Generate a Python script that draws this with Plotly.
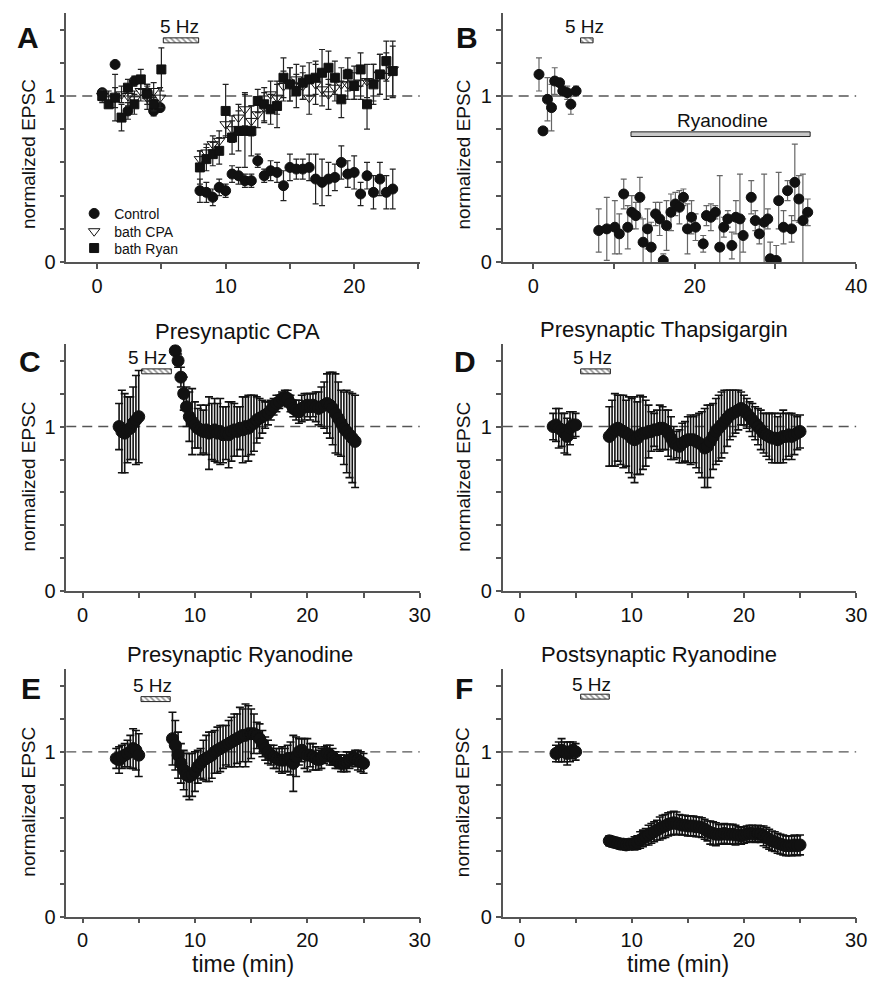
import plotly.graph_objects as go

# ---------------- DATA ----------------
# Panel A (bath application)
ctrl_t = [0.4, 1.4, 2.4, 2.9, 3.9, 4.4, 4.9,
          8.0, 8.5, 9.0, 9.5, 10.0, 10.5, 11.0, 11.5, 12.0, 12.5, 13.0, 13.5, 14.0, 14.5, 15.0, 15.5,
          16.0, 16.5, 17.0, 17.5, 18.0, 18.5, 19.0, 19.5, 20.0, 20.5, 21.0, 21.5, 22.0, 22.5, 23.0]
ctrl_v = [1.02, 1.19, 0.91, 1.09, 1.02, 0.91, 0.93,
          0.43, 0.42, 0.39, 0.45, 0.43, 0.53, 0.52, 0.49, 0.49, 0.61, 0.52, 0.55, 0.54, 0.46, 0.57, 0.56,
          0.56, 0.57, 0.50, 0.48, 0.50, 0.51, 0.60, 0.53, 0.54, 0.41, 0.52, 0.42, 0.50, 0.42, 0.44]
ctrl_e = [0.02, 0.0, 0.05, 0.03, 0.05, 0.03, 0.02,
          0.07, 0.06, 0.05, 0.05, 0.04, 0.05, 0.05, 0.04, 0.04, 0.04, 0.04, 0.06, 0.06, 0.09, 0.08, 0.06,
          0.06, 0.08, 0.15, 0.14, 0.10, 0.08, 0.10, 0.08, 0.10, 0.07, 0.08, 0.10, 0.10, 0.10, 0.12]

cpa_t = [0.4, 0.9, 1.4, 1.9, 2.4, 2.9, 3.4, 3.9, 4.4, 4.9,
         8.0, 8.5, 9.0, 9.5, 10.0, 10.5, 11.0, 11.5, 12.0, 12.5, 13.0, 13.5, 14.0, 14.5, 15.0, 15.5,
         16.0, 16.5, 17.0, 17.5, 18.0, 18.5, 19.0, 19.5, 20.0, 20.5, 21.0, 21.5, 22.0, 22.5, 23.0]
cpa_v = [1.00, 0.98, 0.99, 1.01, 1.00, 0.98, 1.03, 0.99, 1.03, 0.99,
         0.62, 0.66, 0.71, 0.73, 0.83, 0.80, 0.87, 0.92, 0.85, 0.89, 0.93, 1.01, 0.99, 1.06, 1.07, 1.10,
         1.06, 0.99, 1.07, 1.04, 1.01, 1.05, 1.07, 1.07, 1.08, 1.08, 1.09, 1.08, 1.13, 1.12, 1.16]
cpa_e = [0.04, 0.05, 0.06, 0.05, 0.06, 0.05, 0.06, 0.07, 0.05, 0.06,
         0.05, 0.05, 0.05, 0.06, 0.07, 0.08, 0.08, 0.10, 0.09, 0.08, 0.09, 0.08, 0.10, 0.09, 0.10, 0.09,
         0.08, 0.10, 0.12, 0.10, 0.09, 0.08, 0.10, 0.09, 0.10, 0.10, 0.10, 0.11, 0.12, 0.14, 0.17]

ryan_t = [0.4, 0.9, 1.4, 1.9, 2.4, 2.9, 3.4, 3.9, 4.4, 5.0,
          8.0, 8.5, 9.0, 9.5, 10.0, 10.5, 11.0, 11.5, 12.0, 12.5, 13.0, 13.5, 14.0, 14.5, 15.0, 15.5,
          16.0, 16.5, 17.0, 17.5, 18.0, 18.5, 19.0, 19.5, 20.0, 20.5, 21.0, 21.5, 22.0, 22.5, 23.0]
ryan_v = [1.00, 0.95, 0.99, 0.87, 1.05, 0.95, 1.10, 1.01, 0.95, 1.16,
          0.57, 0.62, 0.65, 0.67, 0.91, 0.75, 0.79, 0.79, 0.79, 0.97, 0.95, 0.92, 0.94, 1.11, 1.07, 1.03,
          1.08, 1.10, 1.11, 1.14, 1.17, 1.11, 0.98, 1.13, 1.06, 1.16, 0.95, 1.07, 1.13, 1.21, 1.15]
ryan_e = [0.03, 0.02, 0.14, 0.08, 0.05, 0.06, 0.06, 0.06, 0.04, 0.13,
          0.10, 0.07, 0.07, 0.08, 0.16, 0.10, 0.12, 0.22, 0.15, 0.07, 0.10, 0.09, 0.13, 0.12, 0.10, 0.10,
          0.10, 0.10, 0.10, 0.14, 0.10, 0.10, 0.11, 0.10, 0.08, 0.10, 0.15, 0.12, 0.12, 0.12, 0.15]

# Panel B (bath ryanodine)
B_t = [0.7, 1.2, 1.75, 2.25, 2.65, 3.25, 3.65, 4.2, 4.65, 5.3,
       8.1, 9.1, 10.1, 10.65, 11.2, 11.7, 12.2, 12.7, 13.2, 13.6,
       14.15, 14.6, 15.15, 15.65, 16.1, 16.5, 17.05, 17.6, 18.1, 18.6,
       19.1, 19.6, 20.1, 21.05, 21.45, 22.0, 22.55, 23.1, 23.6, 24.1,
       24.6, 25.1, 25.6, 26.0, 27.0, 27.5, 28.0, 28.6, 29.05, 29.35,
       30.1, 30.4, 31.0, 31.5, 32.0, 32.4, 32.9, 33.4, 34.0]
B_v = [1.13, 0.79, 0.98, 0.93, 1.09, 1.08, 1.03, 1.02, 0.95, 1.03,
       0.19, 0.20, 0.21, 0.17, 0.41, 0.21, 0.30, 0.28, 0.39, 0.12,
       0.20, 0.09, 0.29, 0.26, 0.01, 0.22, 0.30, 0.35, 0.33, 0.39,
       0.20, 0.27, 0.21, 0.11, 0.28, 0.27, 0.30, 0.09, 0.21, 0.26,
       0.10, 0.27, 0.26, 0.16, 0.39, 0.25, 0.17, 0.24, 0.26, 0.02,
       0.01, 0.37, 0.21, 0.43, 0.20, 0.48, 0.38, 0.25, 0.30]
B_e = [0.10, 0.02, 0.13, 0.14, 0.08, 0.02, 0.03, 0.04, 0.06, 0.03,
       0.13, 0.19, 0.16, 0.12, 0.09, 0.13, 0.10, 0.08, 0.12, 0.14,
       0.12, 0.15, 0.07, 0.10, 0.04, 0.15, 0.11, 0.07, 0.10, 0.05,
       0.15, 0.10, 0.08, 0.05, 0.06, 0.08, 0.04, 0.43, 0.06, 0.05,
       0.08, 0.10, 0.27, 0.10, 0.10, 0.06, 0.06, 0.29, 0.06, 0.10,
       0.09, 0.17, 0.10, 0.06, 0.08, 0.23, 0.14, 0.28, 0.08]

# Panel C (presynaptic CPA)
C_t = [3.25, 3.5, 3.75, 4.0, 4.25, 4.5, 4.75, 5.0,
       8.25, 8.5, 8.75,
       9.0, 9.25, 9.5, 9.75, 10.0, 10.25, 10.5, 10.75, 11.0, 11.25, 11.5, 11.75,
       12.0, 12.25, 12.5, 12.75, 13.0, 13.25, 13.5, 13.75, 14.0, 14.25, 14.5, 14.75,
       15.0, 15.25, 15.5, 15.75, 16.0, 16.25, 16.5, 16.75, 17.0, 17.25, 17.5, 17.75,
       18.0, 18.25, 18.5, 18.75, 19.0, 19.25, 19.5, 19.75, 20.0, 20.25, 20.5, 20.75,
       21.0, 21.25, 21.5, 21.75, 22.0, 22.25, 22.5, 22.75, 23.0, 23.25, 23.5, 23.75,
       24.0, 24.25]
C_v = [1.00, 0.97, 0.96, 0.98, 0.99, 1.02, 1.04, 1.06,
       1.46, 1.40, 1.30,
       1.20, 1.12, 1.06, 1.03, 1.01, 0.99, 0.98, 0.97, 0.98, 0.96, 0.97, 0.98,
       0.96, 0.97, 0.95, 0.96, 0.95, 0.97, 0.98, 0.97, 0.99, 0.98, 1.00, 0.99,
       1.01, 1.02, 1.04, 1.05, 1.06, 1.07, 1.08, 1.10, 1.12, 1.14, 1.15, 1.17,
       1.18, 1.17, 1.14, 1.11, 1.10, 1.09, 1.11, 1.12, 1.13, 1.12, 1.13, 1.12,
       1.11, 1.12, 1.13, 1.14, 1.13, 1.11, 1.08, 1.05, 1.02, 0.99, 0.97, 0.95,
       0.93, 0.91]
C_e = [0.14, 0.25, 0.24, 0.20, 0.19, 0.22, 0.27, 0.28,
       0.02, 0.04, 0.06,
       0.10, 0.12, 0.15, 0.20, 0.14, 0.12, 0.15, 0.13, 0.15, 0.22, 0.17, 0.19,
       0.18, 0.20, 0.17, 0.16, 0.20, 0.18, 0.16, 0.15, 0.13, 0.20, 0.18, 0.20,
       0.18, 0.17, 0.14, 0.12, 0.10, 0.08, 0.07, 0.06, 0.05, 0.05, 0.04, 0.04,
       0.04, 0.05, 0.05, 0.05, 0.06, 0.07, 0.08, 0.08, 0.07, 0.08, 0.07, 0.09,
       0.10, 0.12, 0.14, 0.18, 0.20, 0.22, 0.24, 0.22, 0.20, 0.22, 0.25, 0.26,
       0.27, 0.28]

# Shared sampling times for panels D-F after stimulation
t_post = [8.0, 8.25, 8.5, 8.75, 9.0, 9.25, 9.5, 9.75, 10.0, 10.25, 10.5, 10.75,
          11.0, 11.25, 11.5, 11.75, 12.0, 12.25, 12.5, 12.75, 13.0, 13.25, 13.5, 13.75,
          14.0, 14.25, 14.5, 14.75, 15.0, 15.25, 15.5, 15.75, 16.0, 16.25, 16.5, 16.75,
          17.0, 17.25, 17.5, 17.75, 18.0, 18.25, 18.5, 18.75, 19.0, 19.25, 19.5, 19.75,
          20.0, 20.25, 20.5, 20.75, 21.0, 21.25, 21.5, 21.75, 22.0, 22.25, 22.5, 22.75,
          23.0, 23.25, 23.5, 23.75, 24.0, 24.25, 24.5, 24.75, 25.0]

# Panel D (presynaptic thapsigargin)
D_tb = [3.0, 3.25, 3.5, 3.75, 4.0, 4.25, 4.5, 4.75, 5.0]
D_vb = [1.00, 1.01, 0.99, 0.98, 0.96, 0.94, 0.99, 1.01, 1.01]
D_eb = [0.08, 0.10, 0.12, 0.10, 0.12, 0.11, 0.10, 0.08, 0.07]
D_v = [0.94, 0.96, 0.98, 0.99, 0.98, 0.97, 0.96, 0.95, 0.93, 0.92, 0.93, 0.95,
       0.96, 0.96, 0.97, 0.97, 0.98, 0.98, 0.99, 0.99, 0.98, 0.96, 0.93, 0.90,
       0.89, 0.88, 0.90, 0.91, 0.92, 0.92, 0.92, 0.91, 0.90, 0.89, 0.87, 0.88,
       0.91, 0.94, 0.97, 0.99, 1.01, 1.03, 1.05, 1.07, 1.08, 1.09, 1.10, 1.11,
       1.10, 1.08, 1.06, 1.04, 1.02, 1.00, 0.98, 0.96, 0.95, 0.94, 0.93, 0.93,
       0.92, 0.93, 0.94, 0.94, 0.95, 0.94, 0.95, 0.96, 0.97]
D_e = [0.18, 0.20, 0.22, 0.20, 0.21, 0.22, 0.20, 0.23, 0.24, 0.26, 0.22, 0.24,
       0.22, 0.20, 0.16, 0.12, 0.10, 0.12, 0.14, 0.13, 0.12, 0.14, 0.13, 0.10,
       0.08, 0.10, 0.12, 0.12, 0.14, 0.15, 0.14, 0.16, 0.18, 0.20, 0.24, 0.25,
       0.22, 0.20, 0.20, 0.20, 0.20, 0.19, 0.17, 0.15, 0.14, 0.13, 0.12, 0.10,
       0.09, 0.09, 0.09, 0.10, 0.10, 0.11, 0.12, 0.12, 0.13, 0.14, 0.15, 0.15,
       0.14, 0.15, 0.16, 0.14, 0.13, 0.14, 0.12, 0.10, 0.10]

# Panel E (presynaptic ryanodine)
E_tb = [3.0, 3.25, 3.5, 3.75, 4.0, 4.25, 4.5, 4.75, 5.0]
E_vb = [0.96, 0.95, 0.97, 0.98, 0.99, 1.00, 1.02, 1.01, 0.98]
E_eb = [0.06, 0.08, 0.07, 0.07, 0.08, 0.10, 0.12, 0.12, 0.13]
E_v = [1.08, 1.04, 0.98, 0.93, 0.89, 0.86, 0.85, 0.86, 0.88, 0.91, 0.93, 0.95,
       0.96, 0.97, 0.98, 1.00, 1.01, 1.02, 1.03, 1.04, 1.05, 1.06, 1.07, 1.08,
       1.09, 1.10, 1.10, 1.11, 1.11, 1.11, 1.10, 1.08, 1.05, 1.02, 1.00, 0.98,
       0.97, 0.96, 0.95, 0.95, 0.95, 0.96, 0.96, 0.93, 0.97, 1.00, 1.01, 0.99,
       0.98, 0.98, 0.97, 0.96, 0.95, 0.96, 0.98, 0.99, 0.98, 0.97, 0.95, 0.94,
       0.93, 0.93, 0.94, 0.95, 0.96, 0.96, 0.95, 0.94, 0.93]
E_e = [0.16, 0.15, 0.14, 0.12, 0.12, 0.13, 0.14, 0.13, 0.12, 0.10, 0.09, 0.12,
       0.14, 0.15, 0.14, 0.13, 0.14, 0.14, 0.13, 0.12, 0.14, 0.15, 0.16, 0.15,
       0.18, 0.16, 0.19, 0.17, 0.15, 0.12, 0.08, 0.09, 0.08, 0.07, 0.07, 0.06,
       0.07, 0.06, 0.07, 0.08, 0.07, 0.08, 0.10, 0.17, 0.12, 0.08, 0.07, 0.09,
       0.10, 0.07, 0.08, 0.07, 0.06, 0.06, 0.05, 0.05, 0.06, 0.05, 0.05, 0.04,
       0.05, 0.05, 0.06, 0.05, 0.04, 0.05, 0.06, 0.06, 0.06]

# Panel F (postsynaptic ryanodine)
F_tb = [3.25, 3.5, 3.75, 4.0, 4.25, 4.5, 4.75, 5.0]
F_vb = [0.99, 1.00, 1.01, 1.00, 0.99, 1.00, 1.01, 1.00]
F_eb = [0.05, 0.06, 0.07, 0.06, 0.07, 0.06, 0.05, 0.05]
F_v = [0.46, 0.455, 0.45, 0.445, 0.44, 0.44, 0.435, 0.44, 0.44, 0.445, 0.45, 0.465,
       0.475, 0.485, 0.495, 0.505, 0.515, 0.525, 0.535, 0.545, 0.55, 0.56, 0.565, 0.57,
       0.565, 0.56, 0.555, 0.555, 0.55, 0.55, 0.55, 0.545, 0.545, 0.54, 0.53, 0.52,
       0.51, 0.505, 0.50, 0.50, 0.50, 0.505, 0.50, 0.50, 0.50, 0.495, 0.495, 0.49,
       0.495, 0.50, 0.505, 0.505, 0.50, 0.505, 0.50, 0.49, 0.48, 0.47, 0.46, 0.455,
       0.445, 0.44, 0.435, 0.43, 0.43, 0.43, 0.435, 0.43, 0.435]
F_e = [0.03, 0.03, 0.03, 0.03, 0.03, 0.03, 0.03, 0.03, 0.03, 0.04, 0.04, 0.05,
       0.05, 0.05, 0.06, 0.06, 0.06, 0.06, 0.07, 0.07, 0.07, 0.07, 0.07, 0.07,
       0.07, 0.06, 0.06, 0.06, 0.06, 0.06, 0.06, 0.06, 0.06, 0.06, 0.06, 0.06,
       0.07, 0.07, 0.07, 0.06, 0.06, 0.06, 0.06, 0.06, 0.06, 0.06, 0.05, 0.05,
       0.05, 0.05, 0.05, 0.05, 0.05, 0.05, 0.05, 0.06, 0.06, 0.06, 0.06, 0.06,
       0.06, 0.06, 0.06, 0.06, 0.06, 0.06, 0.06, 0.06, 0.06]

# 5 Hz stimulation periods (start, end) in minutes, per panel
stim = {"A": (5.15, 7.9), "B": (5.85, 7.4), "C": (5.26, 7.9),
        "D": (5.45, 8.1), "E": (5.2, 7.8), "F": (5.45, 8.0)}
ryanodine_period = (12.1, 34.3)

x_ticks = [0, 5, 10, 15, 20, 25]
x_tick_text = ["0", "", "10", "", "20", ""]
x_ticks_B = [0, 10, 20, 30, 40]
x_tick_text_B = ["0", "", "20", "", "40"]
x_ticks_30 = [0, 5, 10, 15, 20, 25, 30]
x_tick_text_30 = ["0", "", "10", "", "20", "", "30"]
y_ticks = [0, 0.2, 0.4, 0.6, 0.8, 1.0, 1.2, 1.4]
y_tick_text = ["0", "", "", "", "", "1", "", ""]

# ---------------- FIGURE ----------------
FONT = "Liberation Sans, Arial, Helvetica, sans-serif"
INK = "#111111"
AX = "#555555"
OFF = 8  # page body margin around the plot div
W, H = 879 - OFF, 992 - 2 * OFF


def px_x(p):
    return (p - OFF) / W


def px_y(p):
    return 1 - (p - OFF) / H


fig = go.Figure()


def pts(t, v, e, ax, ay, symbol="circle", size=11, fill=INK, ecolor="#222222",
        name=None, legend=None, ewidth=3, ethick=1.2):
    fig.add_trace(go.Scatter(
        x=t, y=v, mode="markers", xaxis=ax, yaxis=ay, name=name,
        showlegend=legend is not None, legend=legend or "legend",
        marker=dict(symbol=symbol, size=size, color=fill, line=dict(color=INK, width=1)),
        error_y=dict(type="data", array=e, visible=True, color=ecolor, thickness=ethick, width=ewidth),
    ))


def stim_bar(key, ax, ay, yv=1.335):
    s, e = stim[key]
    fig.add_trace(go.Bar(
        x=[e - s], base=[s], y=[yv], orientation="h", width=[0.03], xaxis=ax, yaxis=ay,
        showlegend=False, hoverinfo="skip",
        marker=dict(color="white", line=dict(color="#222222", width=1),
                    pattern=dict(shape="\\", fgcolor="#222222", bgcolor="white", size=4, solidity=0.4)),
    ))


# A
pts(ctrl_t, ctrl_v, ctrl_e, "x", "y", "circle", 10, INK, name="Control", legend="legend")
pts(cpa_t, cpa_v, cpa_e, "x", "y", "triangle-down-open", 10, INK, name="bath CPA", legend="legend2")
pts(ryan_t, ryan_v, ryan_e, "x", "y", "square", 9, INK, name="bath Ryan", legend="legend3")
stim_bar("A", "x", "y")
# B
pts(B_t, B_v, B_e, "x2", "y2", "circle", 10, INK, ecolor="#666666")
stim_bar("B", "x2", "y2")
fig.add_trace(go.Bar(
    x=[ryanodine_period[1] - ryanodine_period[0]], base=[ryanodine_period[0]], y=[0.77],
    orientation="h", width=[0.028], xaxis="x2", yaxis="y2", showlegend=False, hoverinfo="skip",
    marker=dict(color="#c8c8c8", line=dict(color="#222222", width=1))))
# C
pts(C_t, C_v, C_e, "x3", "y3", "circle", 12, INK, ecolor=INK, ewidth=4, ethick=1.6)
stim_bar("C", "x3", "y3")
# D
pts(D_tb + t_post, D_vb + D_v, D_eb + D_e, "x4", "y4", "circle", 12, INK, ecolor=INK, ewidth=4, ethick=1.6)
stim_bar("D", "x4", "y4")
# E
pts(E_tb + t_post, E_vb + E_v, E_eb + E_e, "x5", "y5", "circle", 12, INK, ecolor=INK, ewidth=4, ethick=1.6)
stim_bar("E", "x5", "y5", 1.32)
# F
pts(F_tb + t_post, F_vb + F_v, F_eb + F_e, "x6", "y6", "circle", 12, INK, ecolor=INK, ewidth=4, ethick=1.6)
stim_bar("F", "x6", "y6")

# domains
xl = [px_x(67), px_x(425)]
xr = [px_x(509), px_x(867)]
rows = [[px_y(265), px_y(13)], [px_y(598), px_y(348)], [px_y(927), px_y(677)]]

axis_common = dict(showline=True, linecolor=AX, linewidth=1.5, ticks="outside", ticklen=5,
                   tickwidth=1.5, tickcolor=AX, showgrid=False, zeroline=False,
                   tickfont=dict(size=20, color=INK, family=FONT), fixedrange=True)

layout_axes = {}
specs = [
    ("", xl, rows[0], [-2.4, 25.1], x_ticks, x_tick_text),
    ("2", xr, rows[0], [-3.8, 40], x_ticks_B, x_tick_text_B),
    ("3", xl, rows[1], [-1.45, 30], x_ticks_30, x_tick_text_30),
    ("4", xr, rows[1], [-1.5, 30], x_ticks_30, x_tick_text_30),
    ("5", xl, rows[2], [-1.45, 30], x_ticks_30, x_tick_text_30),
    ("6", xr, rows[2], [-1.5, 30], x_ticks_30, x_tick_text_30),
]
for sfx, xd, yd, xr_, xt, xtt in specs:
    layout_axes["xaxis" + sfx] = dict(axis_common, domain=xd, range=xr_, anchor="y" + sfx,
                                      tickvals=xt, ticktext=xtt)
    layout_axes["yaxis" + sfx] = dict(axis_common, domain=yd, range=[0, 1.5], anchor="x" + sfx,
                                      tickvals=y_ticks, ticktext=y_tick_text)

shapes = []
for sfx, *_ in specs:
    shapes.append(dict(type="line", xref=("x" + sfx + " domain"), yref="y" + sfx,
                       x0=0, x1=1, y0=1, y1=1, layer="below",
                       line=dict(color="#555555", width=1.4, dash="10px,6px")))


def ann(text, px, py, size, bold=False, angle=0):
    return dict(text=("<b>%s</b>" % text) if bold else text, x=px_x(px), y=px_y(py),
                xref="paper", yref="paper", showarrow=False, textangle=angle,
                xanchor="center", yanchor="middle", font=dict(size=size, color=INK, family=FONT))


annotations = [
    ann("A", 28, 38, 30, True), ann("B", 473, 38, 30, True),
    ann("C", 30, 366, 30, True), ann("D", 471, 366, 30, True),
    ann("E", 31, 696, 30, True), ann("F", 470, 696, 30, True),
    ann("Presynaptic CPA", 240, 335, 22), ann("Presynaptic Thapsigargin", 672, 333, 22),
    ann("Presynaptic Ryanodine", 243, 662, 22), ann("Postsynaptic Ryanodine", 667, 662, 22),
    ann("time (min)", 246, 975, 23), ann("time (min)", 687, 975, 23),
]
for cx in (29, 469):
    for cy in (156, 482, 811):
        annotations.append(ann("normalized EPSC", cx, cy, 19, angle=-90))

# "5 Hz" labels and the ryanodine label, placed in data coordinates
for sfx, (lx, ly) in zip(["", "2", "3", "4", "5", "6"],
                         [(6.4, 1.42), (6.3, 1.42), (5.8, 1.42), (6.5, 1.42), (6.2, 1.40), (6.4, 1.41)]):
    annotations.append(dict(text="5 Hz", x=lx, y=ly, xref="x" + sfx, yref="y" + sfx,
                            showarrow=False, font=dict(size=19, color=INK, family=FONT)))
annotations.append(dict(text="Ryanodine", x=23.45, y=0.852, xref="x2", yref="y2", showarrow=False,
                        font=dict(size=19, color=INK, family=FONT)))


def leg(py):
    return dict(x=px_x(75), y=px_y(py), xanchor="left", yanchor="top",
                bgcolor="rgba(0,0,0,0)", font=dict(size=14, color=INK, family=FONT),
                tracegroupgap=0)


fig.update_layout(
    width=W, height=H, margin=dict(l=0, r=0, t=0, b=0),
    paper_bgcolor="white", plot_bgcolor="white",
    font=dict(family=FONT, color=INK), barmode="overlay",
    shapes=shapes, annotations=annotations,
    legend=leg(200), legend2=leg(218), legend3=leg(235),
    **layout_axes,
)

fig.write_html("out.html")
